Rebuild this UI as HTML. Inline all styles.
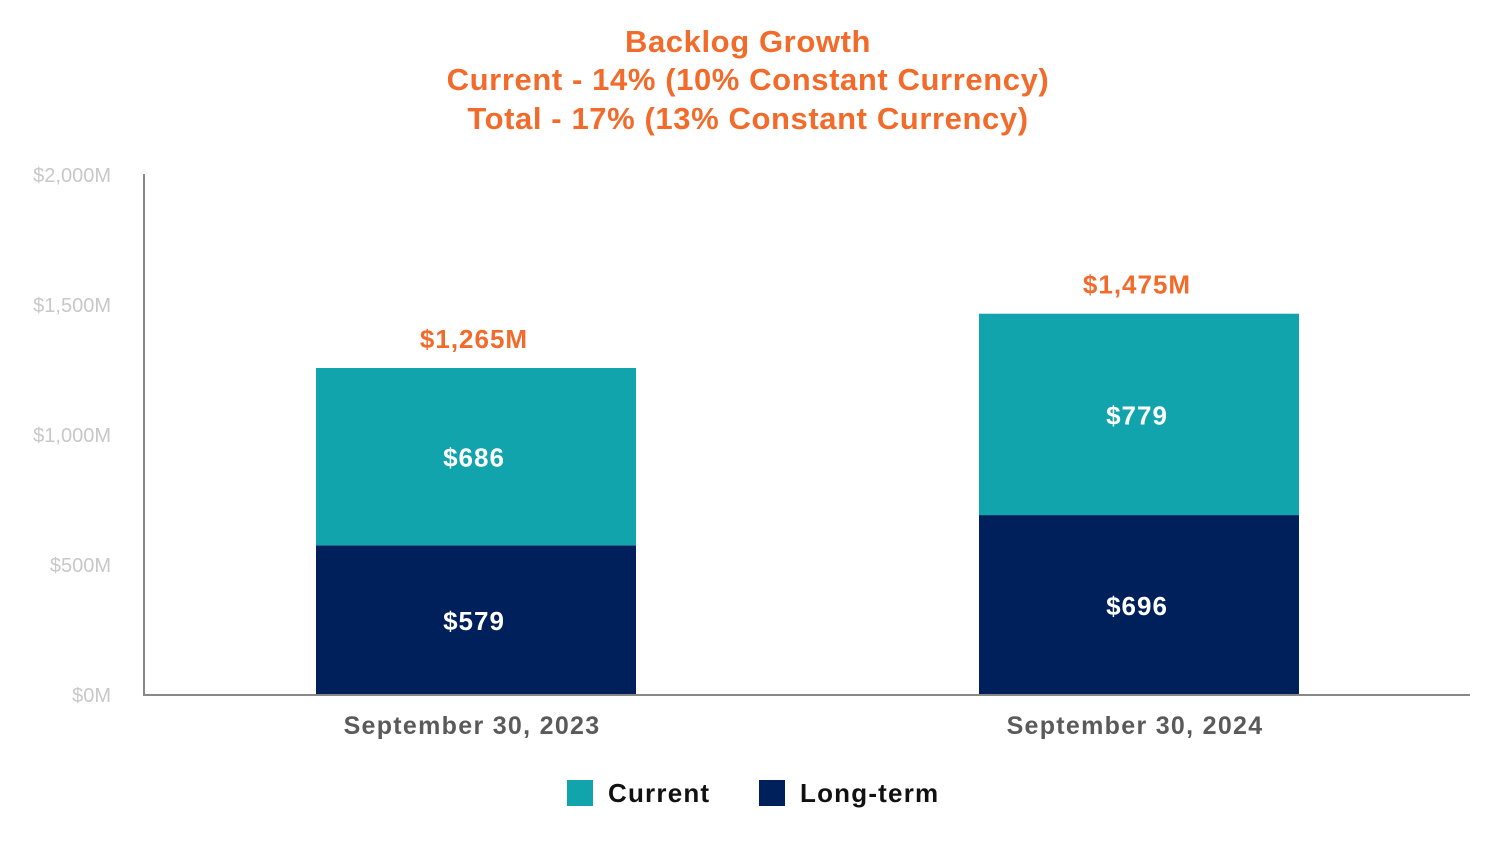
<!DOCTYPE html>
<html><head><meta charset="utf-8"><style>
body{margin:0;background:#fff;width:1500px;height:850px;overflow:hidden;font-family:"Liberation Sans",sans-serif}
svg{display:block}
</style></head><body>
<svg width="1500" height="850">
<g font-weight="bold" font-size="31" fill="#F26B2B" text-anchor="middle" letter-spacing="0.6">
<text x="748" y="52">Backlog Growth</text>
<text x="748" y="90">Current - 14% (10% Constant Currency)</text>
<text x="748" y="129">Total - 17% (13% Constant Currency)</text>
</g>
<g id="yticks"></g>
<g id="bars"></g>
<line x1="144" y1="174" x2="144" y2="695" stroke="#888" stroke-width="2"/>
<line x1="143" y1="695" x2="1470" y2="695" stroke="#888" stroke-width="2"/>
<g font-weight="bold" font-size="26" fill="#111" letter-spacing="1.2">
<rect x="567" y="780" width="26" height="26" fill="#12A4AD"/>
<text x="608" y="802">Current</text>
<rect x="759" y="780" width="26" height="26" fill="#00205B"/>
<text x="800" y="802">Long-term</text>
</g>
</svg>
<script>
const categories=["September 30, 2023","September 30, 2024"];
const longTerm=[579,696];
const current=[686,779];
const totals=["$1,265M","$1,475M"];
const yTicks=[0,500,1000,1500,2000];
const yTickLabels=["$0M","$500M","$1,000M","$1,500M","$2,000M"];
const NS="http://www.w3.org/2000/svg";
const y=v=>695-v*0.2585;
const xc=[476,1139];
const bw=320;
function mk(tag,attrs,txt){const e=document.createElementNS(NS,tag);for(const k in attrs)e.setAttribute(k,attrs[k]);if(txt!==undefined)e.textContent=txt;return e;}
const yt=document.getElementById('yticks');
yTicks.forEach((v,i)=>{const t=mk('text',{x:111,y:695-i*130+7,'text-anchor':'end','font-size':20,fill:'#c8c8c8'},yTickLabels[i]);


yt.appendChild(t);});
const g=document.getElementById('bars');
categories.forEach((c,i)=>{
const x=xc[i]-bw/2;
const r1=mk('rect',{x:x,y:y(longTerm[i]),width:bw,height:y(0)-y(longTerm[i]),fill:'#00205B'});


g.appendChild(r1);
const top=longTerm[i]+current[i];
const r2=mk('rect',{x:x,y:y(top),width:bw,height:y(longTerm[i])-y(top),fill:'#12A4AD'});


g.appendChild(r2);
const l1=mk('text',{x:xc[i]-2,y:(y(0)+y(longTerm[i]))/2+10,'text-anchor':'middle','font-size':26,'font-weight':'bold',fill:'#fff','letter-spacing':1},'$'+longTerm[i]);


g.appendChild(l1);
const l2=mk('text',{x:xc[i]-2,y:(y(longTerm[i])+y(top))/2+10,'text-anchor':'middle','font-size':26,'font-weight':'bold',fill:'#fff','letter-spacing':1},'$'+current[i]);


g.appendChild(l2);
const l3=mk('text',{x:xc[i]-2,y:y(top)-20,'text-anchor':'middle','font-size':26,'font-weight':'bold',fill:'#F26B2B','letter-spacing':1},totals[i]);


g.appendChild(l3);
const cl=mk('text',{x:xc[i]-4,y:734,'text-anchor':'middle','font-size':25,'font-weight':'bold',fill:'#5a5a5a','letter-spacing':1.3},c);


g.appendChild(cl);
});
</script>
</body></html>
